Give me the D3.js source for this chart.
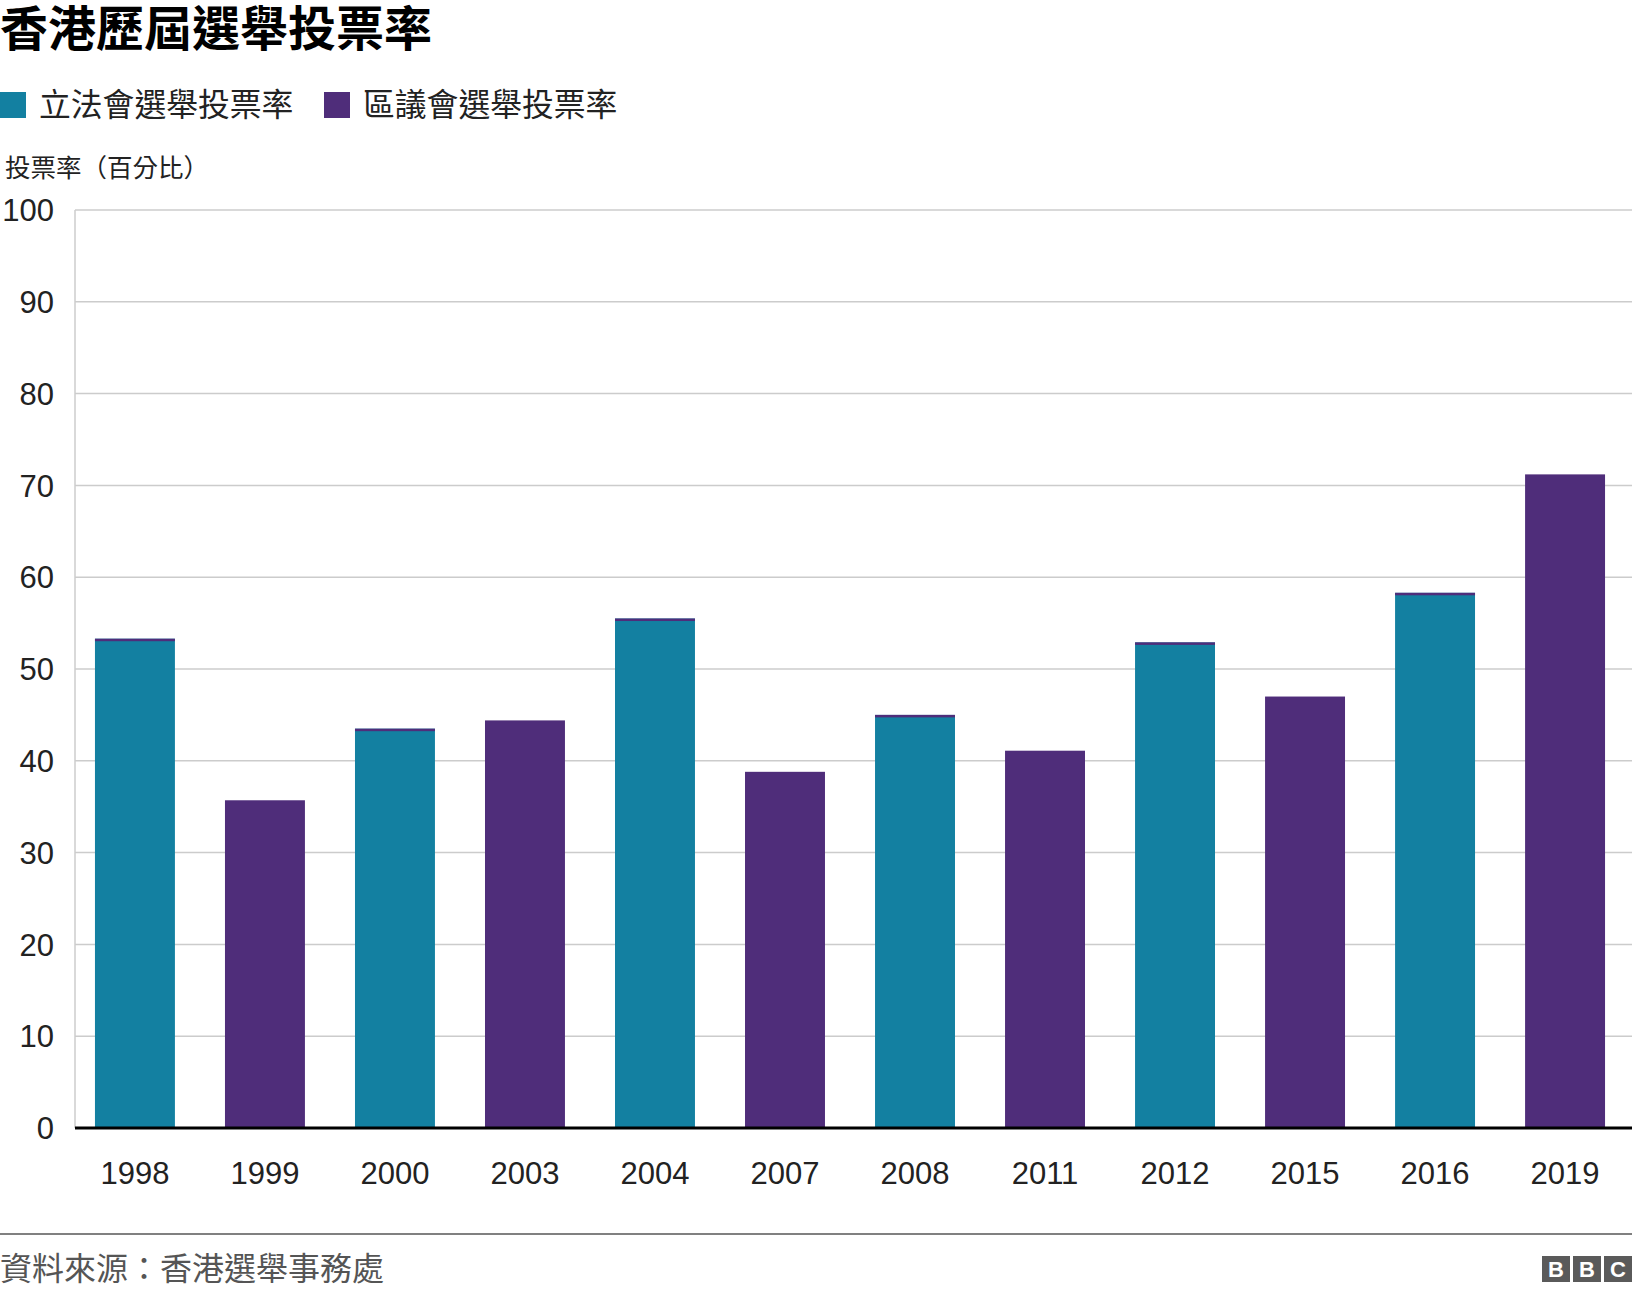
<!DOCTYPE html>
<html>
<head>
<meta charset="utf-8">
<script src="https://cdn.jsdelivr.net/npm/d3@7"></script>
<style>
  body { margin: 0; background: #fff; }
  text { font-family: "Liberation Sans", "Noto Sans CJK TC", sans-serif; }
</style>
</head>
<body>
<div id="chart"></div>
<script>
// election years, one bar each
const years = ["1998", "1999", "2000", "2003", "2004", "2007", "2008", "2011", "2012", "2015", "2016", "2019"];

// turnout (%) - null where that election type did not take place
const legcoTurnout = [53.3, null, 43.5, null, 55.5, null, 45.0, null, 52.9, null, 58.3, null];
const districtTurnout = [null, 35.7, null, 44.4, null, 38.8, null, 41.1, null, 47.0, null, 71.2];

const seriesNames = ["立法會選舉投票率", "區議會選舉投票率"];
const seriesColors = ["#1380a1", "#4f2d7a"];
const yTicks = [0, 10, 20, 30, 40, 50, 60, 70, 80, 90, 100];

const width = 1632, height = 1292;
const plot = { left: 75, right: 1632, top: 210, bottom: 1128 };

const svg = d3.select("#chart").append("svg")
    .attr("width", width)
    .attr("height", height);

const x = d3.scaleBand()
    .domain(years)
    .range([70, 1630])
    .paddingInner(0.385)
    .paddingOuter(0.192);

const y = d3.scaleLinear()
    .domain([0, 100])
    .range([plot.bottom, plot.top]);

// title
svg.append("text")
    .attr("x", 0)
    .attr("y", 46)
    .attr("font-size", 48)
    .attr("font-weight", 700)
    .attr("fill", "#000")
    .text("香港歷屆選舉投票率");

// legend
const legend = svg.selectAll(".legend")
    .data(seriesNames)
    .join("g")
    .attr("class", "legend")
    .attr("transform", (d, i) => "translate(" + (i === 0 ? 0 : 324) + ",92)");

legend.append("rect")
    .attr("width", 26)
    .attr("height", 26)
    .attr("fill", (d, i) => seriesColors[i]);

legend.append("text")
    .attr("x", 39)
    .attr("y", 13)
    .attr("dy", "0.36em")
    .attr("font-size", 31.8)
    .attr("fill", "#222")
    .text(d => d);

// y axis label
svg.append("text")
    .attr("x", 5)
    .attr("y", 168)
    .attr("dy", "0.36em")
    .attr("font-size", 25.5)
    .attr("fill", "#222")
    .text("投票率（百分比）");

// gridlines
svg.append("g")
    .selectAll("line")
    .data(yTicks.filter(d => d > 0))
    .join("line")
    .attr("x1", plot.left)
    .attr("x2", plot.right)
    .attr("y1", d => y(d))
    .attr("y2", d => y(d))
    .attr("stroke", "#cccccc")
    .attr("stroke-width", 1.5);

// left axis line
svg.append("line")
    .attr("x1", plot.left)
    .attr("x2", plot.left)
    .attr("y1", y(100))
    .attr("y2", y(0))
    .attr("stroke", "#cccccc")
    .attr("stroke-width", 1.5);

// y tick labels
svg.append("g")
    .selectAll("text")
    .data(yTicks)
    .join("text")
    .attr("x", 54)
    .attr("y", d => y(d))
    .attr("dy", "0.36em")
    .attr("text-anchor", "end")
    .attr("font-size", 31)
    .attr("fill", "#222")
    .text(d => d);

// bars
const rows = years.map((yr, i) => ({ year: yr, legco: legcoTurnout[i], district: districtTurnout[i] }));

svg.append("g")
    .selectAll("rect")
    .data(rows)
    .join("rect")
    .attr("x", d => x(d.year))
    .attr("width", x.bandwidth())
    .attr("y", d => y(d.legco ?? d.district))
    .attr("height", d => y(0) - y(d.legco ?? d.district))
    .attr("fill", d => d.legco != null ? seriesColors[0] : seriesColors[1]);

// zero-height district segment stacked on top of legco bars shows as a thin cap
svg.append("g")
    .selectAll("rect")
    .data(rows.filter(d => d.legco != null))
    .join("rect")
    .attr("x", d => x(d.year))
    .attr("width", x.bandwidth())
    .attr("y", d => y(d.legco))
    .attr("height", 2.5)
    .attr("fill", seriesColors[1]);

// baseline
svg.append("line")
    .attr("x1", plot.left)
    .attr("x2", plot.right)
    .attr("y1", y(0))
    .attr("y2", y(0))
    .attr("stroke", "#000")
    .attr("stroke-width", 3);

// x labels
svg.append("g")
    .selectAll("text")
    .data(years)
    .join("text")
    .attr("x", d => x(d) + x.bandwidth() / 2)
    .attr("y", 1173)
    .attr("dy", "0.36em")
    .attr("text-anchor", "middle")
    .attr("font-size", 31)
    .attr("fill", "#222")
    .text(d => d);

// footer
svg.append("line")
    .attr("x1", 0)
    .attr("x2", width)
    .attr("y1", 1234)
    .attr("y2", 1234)
    .attr("stroke", "#808080")
    .attr("stroke-width", 2);

svg.append("text")
    .attr("x", 0)
    .attr("y", 1268)
    .attr("dy", "0.36em")
    .attr("font-size", 32)
    .attr("fill", "#555")
    .text("資料來源：香港選舉事務處");

// BBC blocks
const logo = svg.append("g").attr("transform", "translate(1542,1256)");
logo.selectAll("g")
    .data(["B", "B", "C"])
    .join("g")
    .attr("transform", (d, i) => "translate(" + i * 31 + ",0)")
    .call(g => {
        g.append("rect").attr("width", 28).attr("height", 26).attr("fill", "#5a5a5a");
        g.append("text")
            .attr("x", 14).attr("y", 13).attr("dy", "0.36em")
            .attr("text-anchor", "middle")
            .attr("font-size", 22).attr("font-weight", 700)
            .attr("fill", "#fff")
            .text(d => d);
    });
</script>
</body>
</html>
